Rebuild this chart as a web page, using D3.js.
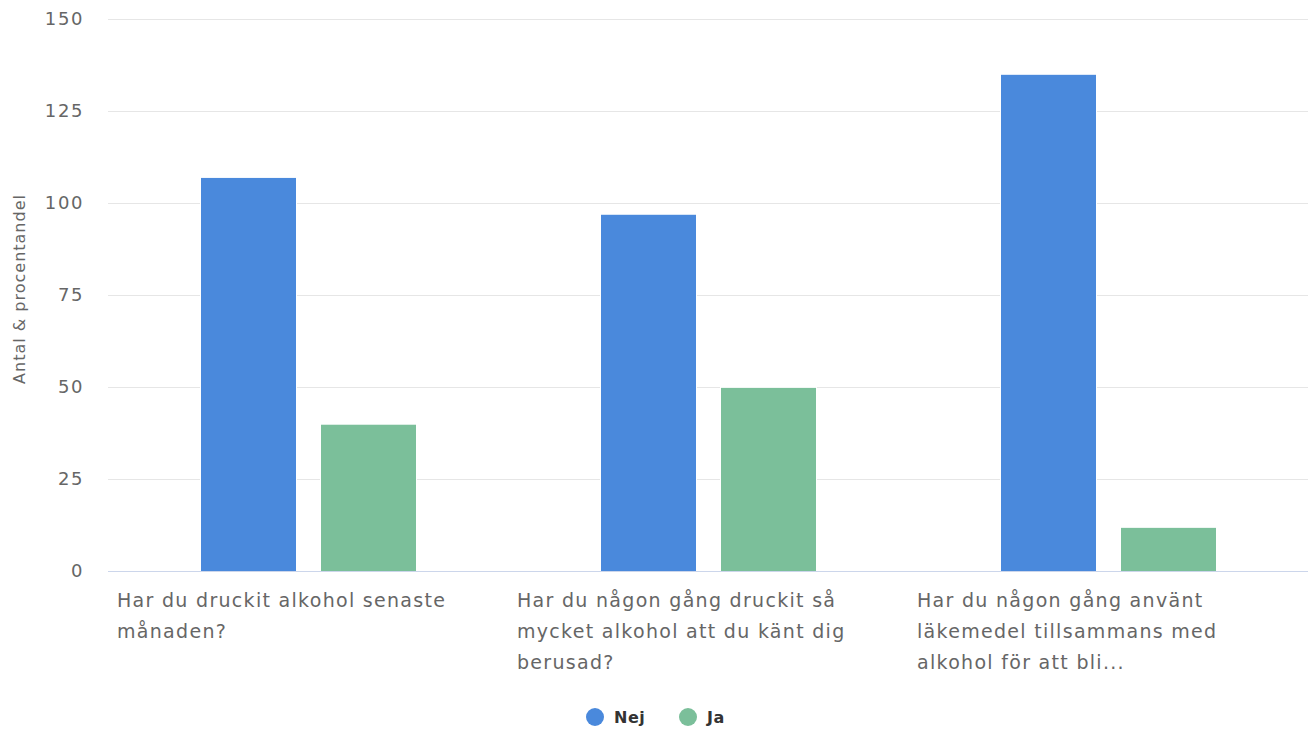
<!DOCTYPE html>
<html><head><meta charset="utf-8">
<script src="https://cdn.jsdelivr.net/npm/d3@7"></script>
<style>
html,body{margin:0;padding:0;background:#fff;}
svg{display:block;font-family:"DejaVu Sans",sans-serif;}
</style></head>
<body>
<svg id="chart" width="1309" height="733"></svg>
<script>
const categories = [
  "Har du druckit alkohol senaste månaden?",
  "Har du någon gång druckit så mycket alkohol att du känt dig berusad?",
  "Har du någon gång använt läkemedel tillsammans med alkohol för att bli..."
];
const seriesNames = ["Nej", "Ja"];
const nejValues = [107, 97, 135];
const jaValues = [40, 50, 12];
const yTicks = [0, 25, 50, 75, 100, 125, 150];
const colors = ["#4A89DC", "#7BBF9A"];
const yTitle = "Antal & procentandel";

(function(){
const svg = d3.select("#chart");
const pLeft = 108, pRight = 1308, pTop = 18.5, pBottom = 571;

const x0 = d3.scaleBand().domain(categories).range([pLeft, pRight]).paddingInner(0).paddingOuter(0);
const x1 = d3.scaleBand().domain(seriesNames).range([92.5, 92.5 + 216]).paddingInner(24/120).paddingOuter(0);
const y = d3.scaleLinear().domain([0, 150]).range([pBottom, pTop]);

svg.append("g").selectAll("line").data(yTicks.filter(d => d > 0)).join("line")
  .attr("x1", pLeft).attr("x2", pRight)
  .attr("y1", d => Math.round(y(d)) + 0.5).attr("y2", d => Math.round(y(d)) + 0.5)
  .attr("stroke", "#e6e6e6").attr("stroke-width", 1);

const yAxis = d3.axisLeft(y).tickValues(yTicks).tickSize(0).tickPadding(0);
const yg = svg.append("g").attr("transform", `translate(84,0)`).call(yAxis);
yg.select(".domain").remove();
yg.selectAll("text").attr("font-size", 18).attr("fill", "#666")
  .attr("letter-spacing", "1.6px").attr("font-family", "DejaVu Sans, sans-serif");

svg.append("text").attr("transform", `translate(25,${289}) rotate(-90)`)
  .attr("text-anchor", "middle").attr("font-size", 16).attr("fill", "#666")
  .attr("letter-spacing", "1px").text(yTitle);

const data = categories.map((c, i) => ({ c, vals: [nejValues[i], jaValues[i]] }));
const groups = svg.append("g").selectAll("g").data(data).join("g")
  .attr("transform", d => `translate(${x0(d.c)},0)`);
groups.selectAll("rect").data(d => seriesNames.map((s, j) => ({ s, v: d.vals[j], j }))).join("rect")
  .attr("x", d => x1(d.s)).attr("width", x1.bandwidth())
  .attr("y", d => y(d.v) + 0.5).attr("height", d => y(0) - y(d.v))
  .attr("fill", d => colors[d.j])
  .attr("stroke", "#fff").attr("stroke-width", 1);

svg.append("line").attr("x1", pLeft).attr("x2", pRight).attr("y1", pBottom + 0.5).attr("y2", pBottom + 0.5)
  .attr("stroke", "#ccd6eb").attr("stroke-width", 1);

const maxW = 345;
categories.forEach(c => {
  const t = svg.append("text").attr("x", x0(c) + 9).attr("y", 607)
    .attr("font-size", 19).attr("fill", "#666").attr("letter-spacing", "1.3px");
  const words = c.split(" ");
  let line = [];
  let tspan = t.append("tspan").attr("x", x0(c) + 9).attr("dy", 0);
  words.forEach(w => {
    line.push(w);
    tspan.text(line.join(" "));
    if (tspan.node().getComputedTextLength() > maxW && line.length > 1) {
      line.pop();
      tspan.text(line.join(" "));
      line = [w];
      tspan = t.append("tspan").attr("x", x0(c) + 9).attr("dy", 31).text(w);
    }
  });
});

const legend = [{ cx: 595, tx: 614 }, { cx: 688, tx: 707 }];
legend.forEach((l, i) => {
  svg.append("circle").attr("cx", l.cx).attr("cy", 717).attr("r", 9).attr("fill", colors[i]);
  svg.append("text").attr("x", l.tx).attr("y", 723).attr("font-size", 16).attr("fill", "#333")
    .attr("font-weight", "bold").attr("letter-spacing", "0.5px").text(seriesNames[i]);
});
})();
</script>
</body></html>
